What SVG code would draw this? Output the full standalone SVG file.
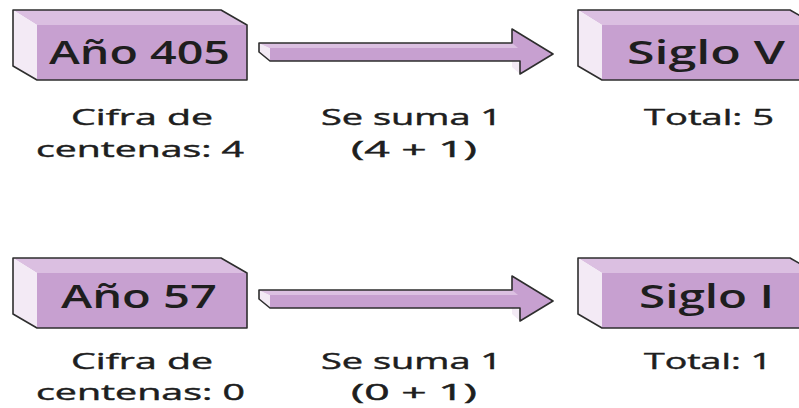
<svg xmlns="http://www.w3.org/2000/svg" width="799" height="408" viewBox="0 0 799 408">
<style>
.front{fill:#c7a0d0}
.top{fill:#dbbfe1}
.side{fill:#f3eaf5}
.edge{fill:none;stroke:#2e2e2e;stroke-width:1.6;stroke-linejoin:round}
.btxt{font-family:"Open Sans","Noto Sans","DejaVu Sans",sans-serif;font-weight:600;font-size:32px;fill:#1e1e1e}
.ltxt{font-family:"Open Sans","Noto Sans","DejaVu Sans",sans-serif;font-weight:400;font-size:22.5px;fill:#1e1e1e;stroke:#1e1e1e;stroke-width:0.45}
.ashaft{fill:#c7a0d0}
.astrip{fill:#dcc0e2}
.aside{fill:#f3eaf5}
</style>
<defs>
<g id="arrow">
<polygon class="ashaft" points="259,43 512,43 512,29 553,54 520,74 520,61 270,61 259,52"/>
<polygon class="astrip" points="259,43 512,43 518,48 270,48"/>
<polygon class="aside" points="259,43 270,48 270,61 259,52"/>
<polygon class="aside" points="512,61 520,63 520,74 512,67"/>
<polygon class="edge" points="259,43 512,43 512,29 553,54 520,74 520,61 270,61 259,52"/>
</g>
</defs>
<rect width="799" height="408" fill="#ffffff"/>

<g id="connectors">
<use href="#arrow"/>
<use href="#arrow" transform="translate(0,247)"/>
</g>

<g id="node-ano-405">
<polygon class="front" points="37,25 247,25 247,80 37,80"/>
<polygon class="top" points="13,10 221,10 247,25 37,25"/>
<polygon class="side" points="13,10 37,25 37,80 13,66"/>
<polygon class="edge" points="13,10 221,10 247,25 247,80 37,80 13,66"/>
<text class="btxt" x="49" y="64" textLength="181" lengthAdjust="spacingAndGlyphs">Año 405</text>
</g>

<g id="node-siglo-v">
<polygon class="front" points="602,25 830,25 830,80 602,80"/>
<polygon class="top" points="578,10 790,10 816,25 602,25"/>
<polygon class="side" points="578,10 602,25 602,80 578,66"/>
<polygon class="edge" points="578,10 790,10 816,25 816,80 602,80 578,66 578,10"/>
<text class="btxt" x="627" y="64" textLength="158" lengthAdjust="spacingAndGlyphs">Siglo V</text>
</g>

<g id="node-ano-57">
<polygon class="front" points="37,273 247,273 247,328 37,328"/>
<polygon class="top" points="13,258 221,258 247,273 37,273"/>
<polygon class="side" points="13,258 37,273 37,328 13,314"/>
<polygon class="edge" points="13,258 221,258 247,273 247,328 37,328 13,314"/>
<text class="btxt" x="61" y="308" textLength="156" lengthAdjust="spacingAndGlyphs">Año 57</text>
</g>

<g id="node-siglo-i">
<polygon class="front" points="602,273 830,273 830,328 602,328"/>
<polygon class="top" points="578,258 790,258 816,273 602,273"/>
<polygon class="side" points="578,258 602,273 602,328 578,314"/>
<polygon class="edge" points="578,258 790,258 816,273 816,328 602,328 578,314 578,258"/>
<text class="btxt" x="639" y="308" textLength="135" lengthAdjust="spacingAndGlyphs">Siglo I</text>
</g>

<g id="labels">
<text class="ltxt" x="71" y="125" textLength="142" lengthAdjust="spacingAndGlyphs">Cifra de</text>
<text class="ltxt" x="36" y="157" textLength="208" lengthAdjust="spacingAndGlyphs">centenas: 4</text>
<text class="ltxt" x="321" y="125" textLength="181" lengthAdjust="spacingAndGlyphs">Se suma 1</text>
<text class="ltxt" x="351" y="157" textLength="126" lengthAdjust="spacingAndGlyphs">(4 + 1)</text>
<text class="ltxt" x="644" y="125" textLength="130" lengthAdjust="spacingAndGlyphs">Total: 5</text>

<text class="ltxt" x="71" y="369" textLength="142" lengthAdjust="spacingAndGlyphs">Cifra de</text>
<text class="ltxt" x="36" y="400" textLength="209" lengthAdjust="spacingAndGlyphs">centenas: 0</text>
<text class="ltxt" x="321" y="369" textLength="181" lengthAdjust="spacingAndGlyphs">Se suma 1</text>
<text class="ltxt" x="351" y="400" textLength="126" lengthAdjust="spacingAndGlyphs">(0 + 1)</text>
<text class="ltxt" x="644" y="369" textLength="128" lengthAdjust="spacingAndGlyphs">Total: 1</text>
</g>
</svg>
